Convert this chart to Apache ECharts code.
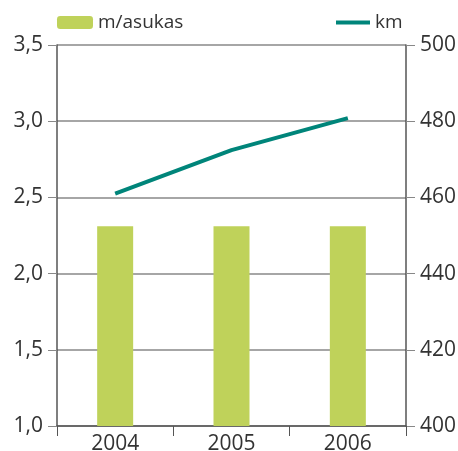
<!DOCTYPE html>
<html>
<head>
<meta charset="utf-8">
<script src="https://cdn.jsdelivr.net/npm/echarts@6/dist/echarts.min.js"></script>
<style>
  html, body { margin: 0; padding: 0; background: #fff; }
  #chart { width: 458px; height: 451px; }
</style>
</head>
<body>
<div id="chart"></div>
<script>
var years = ['2004', '2005', '2006'];
var perResident = [2.31, 2.31, 2.31];   // m/asukas
var km = [461, 472.4, 480.8];

var chart = echarts.init(document.getElementById('chart'));
var font = '"Open Sans", "Noto Sans", sans-serif';

var option = {
    animation: false,
    textStyle: { fontFamily: font },
    grid: { left: 57, right: 52, top: 45, bottom: 25, outerBoundsMode: 'none' },
    legend: [
        {
            data: ['m/asukas'],
            left: 52, top: 8,
            itemWidth: 36, itemHeight: 13, itemGap: 8,
            textStyle: { fontSize: 19, color: '#333', fontFamily: font }
        },
        {
            data: [{ name: 'km', icon: 'rect' }],
            left: 331, top: 8,
            itemWidth: 34, itemHeight: 4, itemGap: 10,
            textStyle: { fontSize: 19, color: '#333', fontFamily: font }
        }
    ],
    xAxis: {
        type: 'category',
        data: years,
        axisLine: { lineStyle: { color: '#555', width: 1.5 } },
        axisTick: { show: true, length: 10, lineStyle: { color: '#555' } },
        axisLabel: { fontSize: 21, color: '#333', margin: 8 }
    },
    yAxis: [
        {
            type: 'value', min: 1, max: 3.5, interval: 0.5,
            axisLine: { show: true, lineStyle: { color: '#555', width: 1.5 } },
            axisTick: { show: true, length: 9, lineStyle: { color: '#888' } },
            axisLabel: {
                fontSize: 21, color: '#333', margin: 14,
                formatter: function (v) { return v.toFixed(1).replace('.', ','); }
            },
            splitLine: { show: true, lineStyle: { color: '#888', width: 1.5 } }
        },
        {
            type: 'value', min: 400, max: 500, interval: 20,
            axisLine: { show: true, lineStyle: { color: '#555', width: 1.5 } },
            axisTick: { show: true, length: 9, lineStyle: { color: '#888' } },
            axisLabel: { fontSize: 21, color: '#333', margin: 14 },
            splitLine: { show: false }
        }
    ],
    series: [
        {
            name: 'm/asukas',
            type: 'bar',
            data: perResident,
            barWidth: 36,
            itemStyle: { color: '#bfd25a' }
        },
        {
            name: 'km',
            type: 'line',
            yAxisIndex: 1,
            data: km,
            symbol: 'none',
            lineStyle: { color: '#00857a', width: 4 },
            itemStyle: { color: '#00857a' }
        }
    ]
};
chart.setOption(option);
</script>
</body>
</html>
